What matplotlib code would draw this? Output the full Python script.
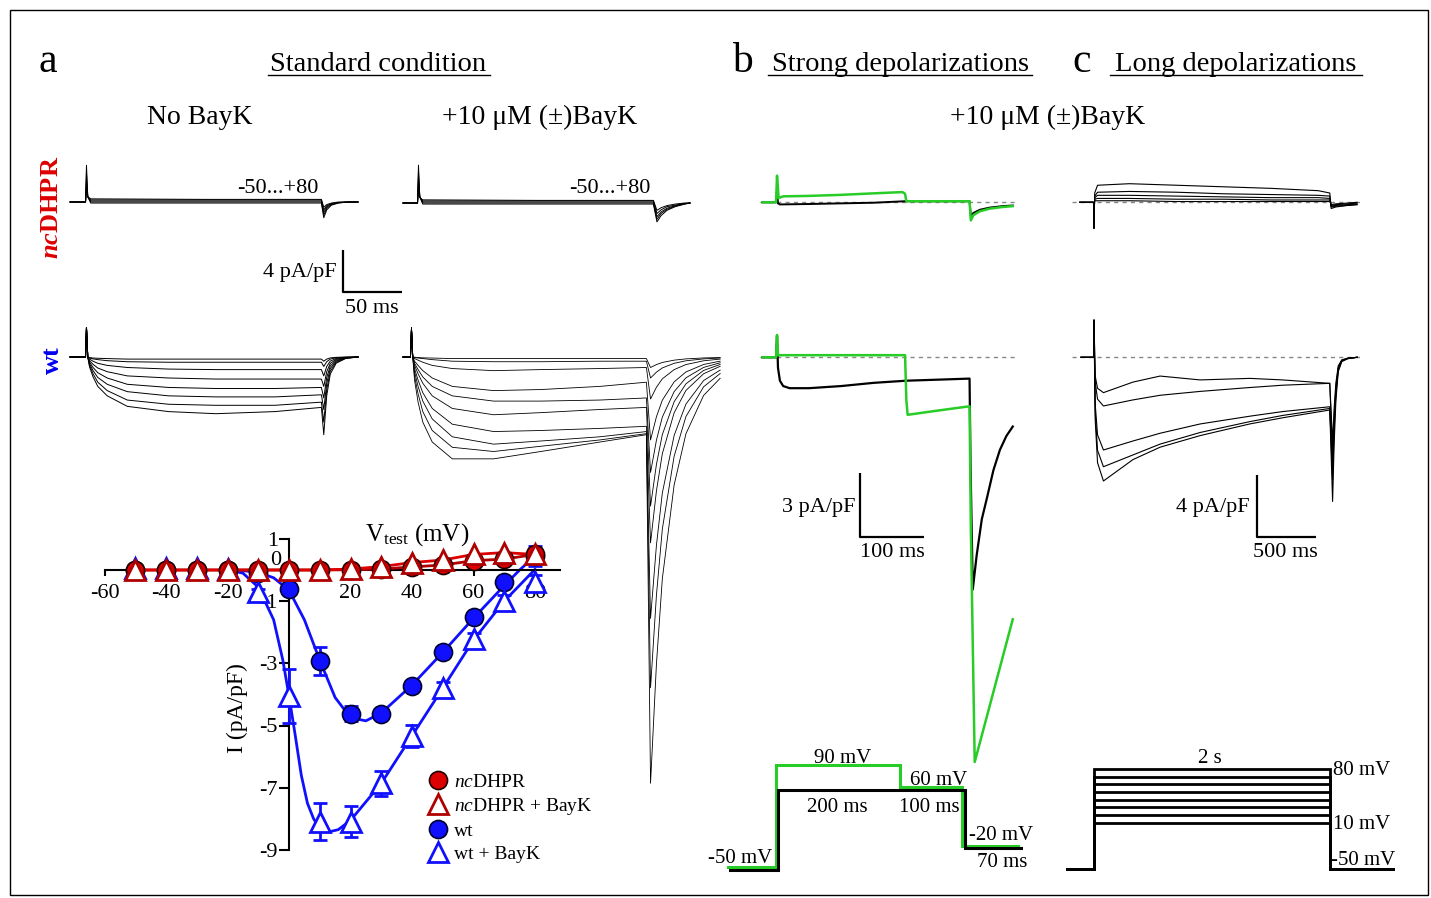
import matplotlib
matplotlib.use('Agg')
import matplotlib.pyplot as plt
import matplotlib.transforms as mtransforms
from matplotlib.lines import Line2D
from matplotlib.patches import Rectangle

W, H = 1431, 898

plt.rcParams['font.family'] = ['Liberation Serif', 'DejaVu Serif']
plt.rcParams['mathtext.fontset'] = 'custom'
plt.rcParams['mathtext.rm'] = 'Liberation Serif'
plt.rcParams['mathtext.it'] = 'Liberation Serif:italic'
plt.rcParams['mathtext.bf'] = 'Liberation Serif:bold'
plt.rcParams['mathtext.bfit'] = 'Liberation Serif:bold:italic'

# ---------------- panel a: ncDHPR traces (ms, pA/pF) ----------------
nc_nb_t = [-13.5, -0.4, 0.4, 1.5, 4, 100, 199.5, 201.5, 204, 208, 214, 222, 230.5]
nc_nb = [
    [0, 0, 3.5, 0.5, -0.1, -0.1, -0.1, -1.5, -0.75, -0.3, -0.1, 0, 0],
    [0, 0, 2.8, 0.5, 0.0, 0.0, 0.0, -1.25, -0.6, -0.25, -0.08, 0, 0],
    [0, 0, 2.1, 0.5, 0.1, 0.1, 0.1, -1.0, -0.45, -0.2, -0.05, 0, 0],
    [0, 0, 1.5, 0.5, 0.2, 0.2, 0.2, -0.75, -0.35, -0.15, -0.05, 0, 0],
    [0, 0, 1.0, 0.5, 0.3, 0.25, 0.25, -0.5, -0.25, -0.1, 0, 0, 0],
]
nc_b_t = [-12.7, -0.4, 0.4, 1.5, 4, 100, 199.5, 202.5, 206, 211, 218, 226, 230.5]
nc_b = [
    [0, 0, 3.6, 0.6, -0.1, -0.1, -0.1, -1.8, -1.2, -0.7, -0.35, -0.1, 0],
    [0, 0, 3.0, 0.6, 0.0, 0.0, 0.0, -1.55, -1.0, -0.6, -0.3, -0.1, 0],
    [0, 0, 2.4, 0.6, 0.1, 0.1, 0.1, -1.3, -0.85, -0.5, -0.25, -0.05, 0],
    [0, 0, 1.8, 0.6, 0.2, 0.2, 0.2, -1.0, -0.65, -0.35, -0.2, -0.05, 0],
    [0, 0, 1.2, 0.5, 0.3, 0.25, 0.25, -0.7, -0.45, -0.25, -0.1, 0, 0],
]

# ---------------- panel a: wt traces ----------------
wt_pre_t = [-13.5, -0.4, 0.4, 1.5]
wt_spike = 2.8
wt_act_t = [3, 6, 10, 18, 35, 70, 110, 160, 199.5]
wt_nb = [
    [-0.05, -0.1, -0.12, -0.15, -0.2, -0.2, -0.2, -0.2, -0.2],
    [-0.1, -0.18, -0.25, -0.35, -0.45, -0.5, -0.5, -0.5, -0.5],
    [-0.2, -0.4, -0.6, -0.8, -1.0, -1.15, -1.2, -1.2, -1.2],
    [-0.35, -0.7, -1.05, -1.4, -1.8, -2.0, -2.1, -2.1, -2.1],
    [-0.5, -1.0, -1.5, -2.0, -2.6, -2.9, -3.0, -3.0, -2.9],
    [-0.65, -1.3, -1.95, -2.6, -3.3, -3.7, -3.8, -3.8, -3.6],
    [-0.8, -1.6, -2.4, -3.2, -4.1, -4.5, -4.6, -4.6, -4.3],
    [-0.95, -1.9, -2.8, -3.7, -4.7, -5.2, -5.4, -5.2, -4.8],
]
wt_nb_tail_t = [201.5, 204, 207, 212, 220, 230.5]
wt_nb_tail_frac = [1, 0.5, 0.22, 0.08, 0.02, 0]
wt_nb_tail_peak = [-0.4, -0.9, -1.8, -2.8, -3.9, -5.0, -6.2, -7.4]

wt_b_pre_t = [-6.8, -0.4, 0.4, 1.5]
wt_b = [
    [-0.02, -0.05, -0.08, -0.1, -0.15, -0.15, -0.15, -0.15, -0.15],
    [-0.05, -0.1, -0.15, -0.25, -0.4, -0.45, -0.45, -0.4, -0.4],
    [-0.15, -0.3, -0.5, -0.8, -1.1, -1.3, -1.2, -1.1, -1.0],
    [-0.4, -0.8, -1.3, -2.0, -2.8, -3.2, -3.1, -2.8, -2.4],
    [-0.6, -1.2, -1.9, -2.8, -3.7, -4.2, -4.2, -4.1, -3.9],
    [-0.8, -1.6, -2.5, -3.7, -4.9, -5.5, -5.3, -5.0, -4.8],
    [-1.1, -2.2, -3.4, -4.9, -6.4, -7.1, -7.0, -6.8, -6.6],
    [-1.4, -2.8, -4.2, -5.9, -7.6, -8.3, -8.0, -7.6, -7.1],
    [-1.8, -3.5, -5.2, -7.0, -8.6, -9.0, -8.5, -7.9, -7.3],
    [-2.2, -4.3, -6.2, -8.1, -9.7, -9.7, -9.0, -8.1, -7.4],
]
wt_b_tail_t = [203, 208, 213, 223, 233, 248, 262]
wt_b_tail_frac = [1, 0.72, 0.52, 0.3, 0.18, 0.09, 0.05]
wt_b_tail_peak = [-1.0, -2.0, -4.0, -7.9, -11.0, -14.2, -17.7, -24.9, -31.5, -40.6]

# ---------------- panel a: I-V curves ----------------
volt = [-50, -40, -30, -20, -10, 0, 10, 20, 30, 40, 50, 60, 70, 80]
iv_nc = [0, 0, 0, 0, 0, 0, 0, 0.01, 0.03, 0.1, 0.16, 0.3, 0.35, 0.5]
iv_nc_bay = [0, 0, 0, 0, 0, 0, 0, 0.03, 0.11, 0.24, 0.32, 0.5, 0.56, 0.5]
iv_wt = [0, 0, 0, 0, -0.1, -0.61, -2.94, -4.62, -4.62, -3.74, -2.65, -1.51, -0.4, 0.44]
iv_wt_err = [0, 0, 0, 0, 0.05, 0.1, 0.45, 0.25, 0.12, 0.12, 0.12, 0.12, 0.15, 0.32]
iv_wtb = [0.05, 0.05, 0.05, 0.02, -0.72, -4.05, -8.09, -8.09, -6.86, -5.33, -3.8, -2.22, -0.99, -0.4]
iv_wtb_err = [0, 0, 0, 0, 0.1, 0.88, 0.6, 0.5, 0.4, 0.35, 0.2, 0.2, 0.2, 0.25]
fit_wt_v = [-20, -15, -10, -5, 0, 5, 10, 15, 20, 25, 30, 35, 40, 50, 60, 70, 75, 80]
fit_wt_i = [0, -0.02, -0.08, -0.25, -0.65, -1.6, -2.9, -4.1, -4.75, -4.85, -4.6,
            -4.15, -3.7, -2.65, -1.55, -0.5, 0.0, 0.45]
fit_wtb_v = [-20, -15, -10, -5, -2, 0, 2, 4, 6, 8, 10, 13, 16, 20, 30, 40, 50, 60, 70, 80]
fit_wtb_i = [0, -0.1, -0.55, -1.6, -2.9, -4.05, -5.3, -6.6, -7.5, -8.0, -8.3, -8.42,
             -8.35, -8.05, -6.86, -5.33, -3.8, -2.25, -1.0, 0.02]
x_ticks = [-60, -40, -20, 20, 40, 60, 80]
y_ticks = [1, -1, -3, -5, -7, -9]

# ---------------- panel b: strong depolarizations ----------------
b_sweep = [-26, 370]
b_top_g_t = [-22, -1, 0.5, 3, 10, 50, 100, 150, 195, 199, 201, 250, 299, 301, 305, 315, 330, 350, 366]
b_top_g = [0, 0, 1.25, 0.2, 0.28, 0.3, 0.35, 0.42, 0.48, 0.4, 0.05, 0.05, 0.05,
           -0.85, -0.6, -0.42, -0.3, -0.22, -0.18]
b_top_k_t = [-22, -1, 0.5, 2, 5, 50, 100, 150, 199, 250, 299, 301, 305, 315, 330, 350, 366]
b_top_k = [0, 0, 0.6, -0.05, -0.1, -0.08, -0.05, -0.02, 0.05, 0.05, 0.05,
           -0.65, -0.5, -0.35, -0.25, -0.18, -0.15]
b_bot_g_t = [-22, -1, 0.5, 2, 10, 100, 199, 201, 203, 250, 299, 301, 307, 366]
b_bot_g = [0, 0, 1.05, 0.1, 0.1, 0.1, 0.1, -2.0, -2.7, -2.5, -2.3, -8.0, -19.0, -12.3]
b_bot_k_t = [-22, -1, 0.5, 2, 5, 10, 20, 50, 100, 150, 200, 250, 299, 300.5,
             304, 310, 318, 326, 336, 346, 356, 366]
b_bot_k = [0, 0, 1.0, -0.5, -1.1, -1.35, -1.45, -1.45, -1.35, -1.2, -1.1, -1.05, -1.0,
           -5.0, -10.9, -9.3, -7.6, -6.6, -5.3, -4.35, -3.7, -3.25]
b_prot_k_t = [-77, 0, 0, 300, 300, 390]
b_prot_k_v = [-50, -50, 60, 60, -20, -20]
b_prot_g_t = [-77, 0, 0, 200, 200, 300, 300, 390]
b_prot_g_v = [-50, -50, 90, 90, 60, 60, -20, -20]

# ---------------- panel c: long depolarizations ----------------
c_sweep = [-186, 2271]
c_top_t = [-120, -3, 0, 6, 30, 300, 700, 1100, 1500, 1900, 1998, 2010, 2050, 2150, 2229]
c_top = [
    [0, 0, -1.7, 0.6, 1.1, 1.2, 1.1, 1.0, 0.9, 0.75, 0.6, -0.4, -0.3, -0.2, -0.15],
    [0, 0, -1.2, 0.4, 0.65, 0.7, 0.65, 0.55, 0.5, 0.45, 0.4, -0.3, -0.25, -0.2, -0.15],
    [0, 0, -0.8, 0.3, 0.45, 0.45, 0.4, 0.35, 0.3, 0.3, 0.25, -0.25, -0.2, -0.15, -0.1],
    [0, 0, -0.5, 0.2, 0.25, 0.25, 0.2, 0.2, 0.15, 0.15, 0.15, -0.2, -0.15, -0.1, -0.05],
    [0, 0, -0.3, 0.1, 0.1, 0.1, 0.05, 0.05, 0.05, 0.05, 0.05, -0.15, -0.1, -0.05, 0],
]
c_bot_t = [-110, -3, 0, 10, 30, 80, 330, 560, 900, 1320, 1600, 1998]
c_bot = [
    [0, 0, 2.4, -1.2, -2.0, -2.28, -1.6, -1.21, -1.46, -1.36, -1.46, -1.68],
    [0, 0, 2.4, -1.6, -2.7, -3.14, -2.75, -2.45, -2.2, -1.95, -1.8, -1.68],
    [0, 0, 2.4, -3.0, -5.0, -5.98, -5.4, -4.9, -4.3, -3.8, -3.5, -3.19],
    [0, 0, 2.4, -3.5, -6.0, -7.06, -6.3, -5.6, -4.85, -4.15, -3.75, -3.3],
    [0, 0, 2.4, -4.0, -6.8, -7.98, -6.6, -5.8, -5.05, -4.3, -3.9, -3.4],
]
c_tail_t = [2022, 2035, 2050, 2070, 2100, 2150, 2230]
c_tail_frac = [1, 0.6, 0.3, 0.1, 0.03, 0.01, 0]
c_tail_peak = [-5.5, -6.4, -7.3, -7.9, -9.3]
c_prot_levels = [80, 70, 60, 50, 40, 30, 20, 10]
c_prot_t = [-230, 0, 0, 2000, 2000, 2530]

GREEN = '#27cc27'
RED = '#dd0000'
DRED = '#b00000'
BLUE = '#1010ff'

fig = plt.figure(figsize=(W / 100, H / 100), dpi=100)


def px_axes(x0, y0, x1, y1):
    return fig.add_axes([x0 / W, 1 - y1 / H, (x1 - x0) / W, (y1 - y0) / H])


def trace_axes(box, t0, base, ppms, ppu):
    x0, y0, x1, y1 = box
    ax = px_axes(*box)
    ax.set_xlim((x0 - t0) / ppms, (x1 - t0) / ppms)
    ax.set_ylim((base - y1) / ppu, (base - y0) / ppu)
    ax.axis('off')
    return ax


def ftext(x, y, s, **kw):
    kw.setdefault('va', 'baseline')
    return fig.text(x / W, 1 - y / H, s, **kw)


def uline(x0, x1, y):
    fig.add_artist(Line2D([x0 / W, x1 / W], [1 - y / H, 1 - y / H], color='k', lw=1.0,
                          transform=fig.transFigure))


def scalebar(ax, t, i, dt, di):
    ax.plot([t, t, t + dt], [i + di, i, i], color='k', lw=1.6, solid_capstyle='butt')


# frame
fig.add_artist(Rectangle((10 / W, 1 - 895 / H), 1418 / W, 885 / H, fill=False, lw=1.0,
                         edgecolor='k', transform=fig.transFigure))

# ---------- panel a traces ----------
PA_MS, PA_U = 1.18, 10.5
ax = trace_axes((60, 140, 420, 250), 86, 202, PA_MS, PA_U)
for row in nc_nb:
    ax.plot(nc_nb_t, row, color='k', lw=0.7)

ax = trace_axes((395, 140, 725, 250), 418, 203, PA_MS, PA_U)
for row in nc_b:
    ax.plot(nc_b_t, row, color='k', lw=0.7)

ax = trace_axes((60, 240, 420, 460), 86, 357, PA_MS, PA_U)
for row, pk in zip(wt_nb, wt_nb_tail_peak):
    t = wt_pre_t + wt_act_t + wt_nb_tail_t
    v = [0, 0, wt_spike, 0] + row + [pk * f for f in wt_nb_tail_frac]
    ax.plot(t, v, color='k', lw=0.7)
# scale bar 4 pA/pF, 50 ms
scalebar(ax, 218, 6.19, 50, 4)

ax = trace_axes((395, 300, 725, 800), 411, 357, PA_MS, PA_U)
for row, pk in zip(wt_b, wt_b_tail_peak):
    t = wt_b_pre_t + wt_act_t + wt_b_tail_t
    v = [0, 0, wt_spike, 0] + row + [pk * f for f in wt_b_tail_frac]
    ax.plot(t, v, color='k', lw=0.6)

# ---------- panel a I-V ----------
IV_X0, IV_MV = 289, 3.075
IV_Y0, IV_U = 570, 31.1
xl, yl = (-70, 92), (-9.5, 1.3)
ax = px_axes(IV_X0 + xl[0] * IV_MV, IV_Y0 - yl[1] * IV_U, IV_X0 + xl[1] * IV_MV, IV_Y0 - yl[0] * IV_U)
ax.set_xlim(*xl)
ax.set_ylim(*yl)
ax.patch.set_visible(False)
for s in ('top', 'right'):
    ax.spines[s].set_visible(False)
ax.spines['left'].set_position(('data', 0))
ax.spines['bottom'].set_position(('data', 0))
ax.spines['left'].set_bounds(-9, 1)
ax.spines['bottom'].set_bounds(-60, 88)
for s in ('left', 'bottom'):
    ax.spines[s].set_linewidth(1.5)
ax.set_xticks(x_ticks)
ax.set_xticklabels([str(v) for v in x_ticks])
ax.set_yticks(y_ticks)
ax.set_yticklabels([str(v) for v in y_ticks])
ax.tick_params(axis='x', direction='out', length=4, width=1.5, pad=6, labelsize=16)
ax.tick_params(axis='y', direction='out', length=7, width=1.5, pad=1, labelsize=16)
ax.text(-2.5, 0.3, '0', fontsize=16, ha='right', va='center')

ax.plot(fit_wt_v, fit_wt_i, color=BLUE, lw=2, zorder=2)
ax.plot(fit_wtb_v, fit_wtb_i, color=BLUE, lw=2, zorder=2)
ax.errorbar(volt, iv_wt, yerr=iv_wt_err, fmt='none', ecolor=BLUE, elinewidth=2,
            capsize=5, capthick=2, zorder=3)
ax.errorbar(volt, iv_wtb, yerr=iv_wtb_err, fmt='none', ecolor=BLUE, elinewidth=2,
            capsize=5, capthick=2, zorder=3)
ax.plot(volt, iv_wt, 'o', ms=13, mfc=BLUE, mec='#000030', mew=1.2, zorder=4, clip_on=False)
ax.plot(volt, iv_wtb, '^', ms=14, mfc='white', mec=BLUE, mew=2, zorder=5, clip_on=False)
ax.plot(volt, iv_nc, '-', color=DRED, lw=2, zorder=6)
ax.plot(volt, iv_nc_bay, '-', color=RED, lw=2, zorder=6)
ax.plot(volt, iv_nc, 'o', ms=13, mfc=RED, mec='#200000', mew=1.2, zorder=7, clip_on=False)
ax.plot(volt, iv_nc_bay, '^', ms=14, mfc='white', mec=DRED, mew=2, zorder=8, clip_on=False)

handles = [
    Line2D([], [], ls='none', marker='o', ms=13, mfc=RED, mec='#200000', mew=1.2),
    Line2D([], [], ls='none', marker='^', ms=14, mfc='white', mec=DRED, mew=2),
    Line2D([], [], ls='none', marker='o', ms=13, mfc=BLUE, mec='#000030', mew=1.2),
    Line2D([], [], ls='none', marker='^', ms=14, mfc='white', mec=BLUE, mew=2),
]
labels = [r'$\mathit{nc}$DHPR', r'$\mathit{nc}$DHPR + BayK', 'wt', 'wt + BayK']
fig.legend(handles, labels, loc='upper left', bbox_to_anchor=(428 / W, 1 - 773 / H),
           frameon=False, handlelength=1.0, handletextpad=0.35, labelspacing=0.27,
           borderpad=0, borderaxespad=0, fontsize=14)

ftext(417, 541, r'$\mathrm{V_{test}\ (mV)}$', fontsize=18, ha='center')
fig.text(237 / W, 1 - 708 / H, 'I (pA/pF)', fontsize=17, rotation=90, ha='center', va='center')

# ---------- panel b ----------
PB_T0, PB_MS, PB_U = 776.7, 0.645, 21.3
ax = trace_axes((750, 150, 1035, 260), PB_T0, 202.3, PB_MS, PB_U)
ax.hlines(0, *b_sweep, color='#888888', lw=1, linestyles=(0, (3, 3)))
ax.plot(b_top_k_t, b_top_k, color='k', lw=1.4)
ax.plot(b_top_g_t, b_top_g, color=GREEN, lw=1.8)

ax = trace_axes((750, 300, 1035, 780), PB_T0, 357.3, PB_MS, PB_U)
ax.hlines(0, *b_sweep, color='#888888', lw=1, linestyles=(0, (3, 3)))
ax.plot(b_bot_k_t, b_bot_k, color='k', lw=1.6)
ax.plot(b_bot_g_t, b_bot_g, color=GREEN, lw=1.8)
scalebar(ax, 129, -8.43, 100, 3)

ax = trace_axes((700, 740, 1040, 890), 778, 833.5, 0.623, 0.729)
off = mtransforms.offset_copy(ax.transData, fig=fig, x=-2.5, y=2.5, units='dots')
ax.plot(b_prot_g_t, b_prot_g_v, color=GREEN, lw=2.2, transform=off, solid_joinstyle='miter')
ax.plot(b_prot_k_t, b_prot_k_v, color='k', lw=2.2, solid_joinstyle='miter')

# ---------- panel c ----------
PC_T0, PC_MS, PC_U = 1094, 0.118, 15.5
ax = trace_axes((1065, 150, 1380, 260), PC_T0, 202.3, PC_MS, PC_U)
ax.hlines(0, *c_sweep, color='#888888', lw=1, linestyles=(0, (3, 3)))
for row in c_top:
    ax.plot(c_top_t, row, color='k', lw=0.8)

ax = trace_axes((1065, 300, 1380, 560), PC_T0, 357.3, PC_MS, PC_U)
ax.hlines(0, *c_sweep, color='#888888', lw=1, linestyles=(0, (3, 3)))
for row, pk in zip(c_bot, c_tail_peak):
    ax.plot(c_bot_t + c_tail_t, row + [pk * f for f in c_tail_frac], color='k', lw=0.8)
scalebar(ax, 1381, -11.6, 500, 4)

ax = trace_axes((1050, 740, 1410, 890), PC_T0, 830.5, 0.118, 0.77)
for lv in c_prot_levels:
    ax.plot(c_prot_t, [-50, -50, lv, lv, -50, -50], color='k', lw=2.0, solid_joinstyle='miter')

# ---------- texts ----------
for x, s in ((48, 'a'), (742, 'b'), (1082, 'c')):
    ftext(x, 72, s, fontsize=30, ha='center')
ftext(378, 71, 'Standard condition', fontsize=20.5, ha='center')
uline(268, 490, 75)
ftext(900, 71, 'Strong depolarizations', fontsize=20.5, ha='center')
uline(768, 1032, 75)
ftext(1236, 71, 'Long depolarizations', fontsize=20.5, ha='center')
uline(1110, 1362, 75)
ftext(200, 124, 'No BayK', fontsize=20, ha='center')
ftext(540, 124, '+10 \u03bcM (\u00b1)BayK', fontsize=20, ha='center')
ftext(1048, 124, '+10 \u03bcM (\u00b1)BayK', fontsize=20, ha='center')
fig.text(52 / W, 1 - 207 / H, r'$\mathbfit{nc}\mathbf{DHPR}$', fontsize=19, color='#dd0000',
         rotation=90, ha='center', va='center')
fig.text(52 / W, 1 - 360 / H, 'wt', fontsize=19, color='#0000ee', fontweight='bold',
         rotation=90, ha='center', va='center')
ftext(278, 193, '-50...+80', fontsize=16, ha='center')
ftext(610, 193, '-50...+80', fontsize=16, ha='center')
ftext(337, 277, '4 pA/pF', fontsize=16, ha='right')
ftext(372, 313, '50 ms', fontsize=16, ha='center')
ftext(855, 512, '3 pA/pF', fontsize=16, ha='right')
ftext(892, 557, '100 ms', fontsize=16, ha='center')
ftext(1250, 512, '4 pA/pF', fontsize=16, ha='right')
ftext(1285, 557, '500 ms', fontsize=16, ha='center')

ftext(843, 763, '90 mV', fontsize=15, ha='center')
ftext(910, 785, '60 mV', fontsize=15, ha='left')
ftext(837, 812, '200 ms', fontsize=15, ha='center')
ftext(929, 812, '100 ms', fontsize=15, ha='center')
ftext(969, 840, '-20 mV', fontsize=15, ha='left')
ftext(1002, 867, '70 ms', fontsize=15, ha='center')
ftext(740, 863, '-50 mV', fontsize=15, ha='center')
ftext(1210, 763, '2 s', fontsize=15, ha='center')
ftext(1333, 775, '80 mV', fontsize=15, ha='left')
ftext(1333, 829, '10 mV', fontsize=15, ha='left')
ftext(1331, 865, '-50 mV', fontsize=15, ha='left')

fig.savefig('out.png', dpi=100)
